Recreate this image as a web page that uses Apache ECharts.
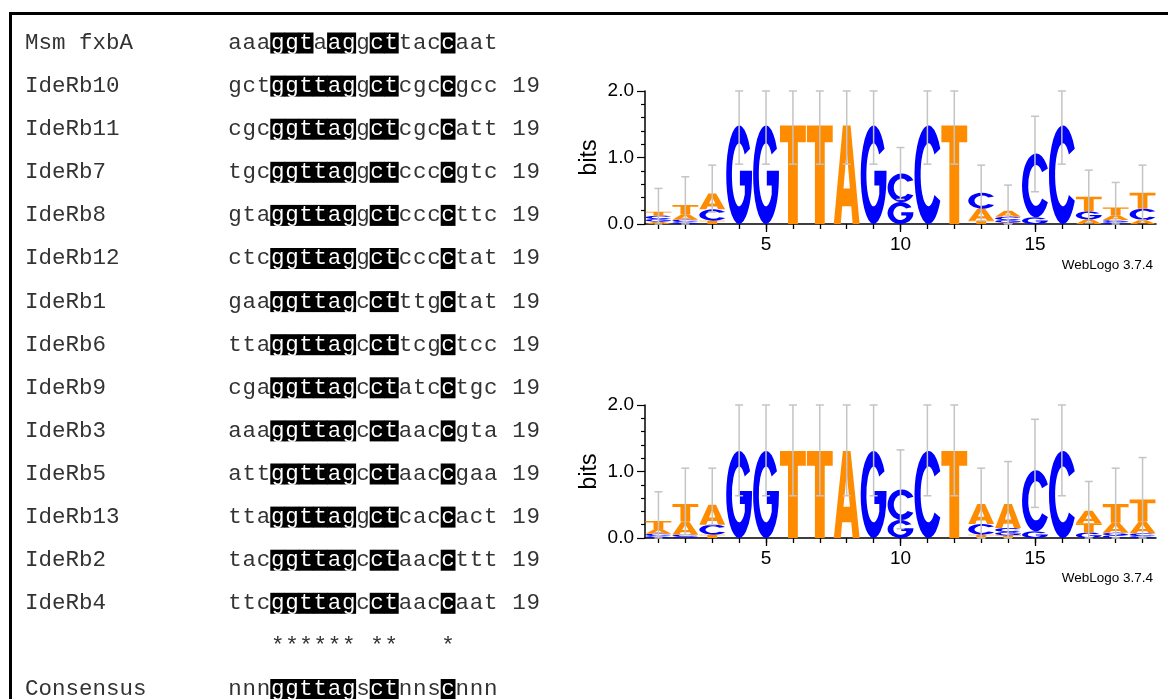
<!DOCTYPE html>
<html><head><meta charset="utf-8">
<script src="https://cdn.jsdelivr.net/npm/echarts@6/dist/echarts.min.js"></script>
<style>html,body{margin:0;padding:0;background:#fff}#c{width:1168px;height:699px}</style>
</head><body><div id="c"></div>
<script>
// ---------- alignment data ----------
const rowNames = ['Msm fxbA','IdeRb10','IdeRb11','IdeRb7','IdeRb8','IdeRb12','IdeRb1','IdeRb6','IdeRb9','IdeRb3','IdeRb5','IdeRb13','IdeRb2','IdeRb4','','Consensus'];
const rowSeqs = ['aaaggtaaggcttaccaat','gctggttaggctcgccgcc','cgcggttaggctcgccatt','tgcggttaggctccccgtc','gtaggttaggctccccttc','ctcggttaggctcccctat','gaaggttagcctttgctat','ttaggttagccttcgctcc','cgaggttagcctatcctgc','aaaggttagcctaaccgta','attggttagcctaaccgaa','ttaggttaggctcaccact','tacggttagcctaaccttt','ttcggttagcctaaccaat','   ****** **   *','nnnggttagsctnnscnnn'];
const rowCounts = ['','19','19','19','19','19','19','19','19','19','19','19','19','19','',''];
const highlightMsm = [3,4,5,7,8,10,11,15];
const highlightStd = [3,4,5,6,7,8,10,11,15];

// ---------- logo data (bits per letter at positions 1..19) ----------
const positions = [1,2,3,4,5,6,7,8,9,10,11,12,13,14,15,16,17,18,19];
const letters = ['A','C','G','T'];
const logo1A = [0.035,0.08,0.24,0,0,0,0,1.48,0,0,0,0,0.18,0.09,0,0,0.07,0.07,0.06];
const logo1C = [0.05,0.035,0.17,0,0,0,0,0,0,0.43,1.48,0,0.24,0.05,0.96,1.48,0,0.03,0.17];
const logo1G = [0.04,0.03,0,1.48,1.48,0,0,0,1.48,0.33,0,0,0,0.04,0.10,0,0.12,0.03,0];
const logo1T = [0.06,0.14,0.05,0,0,1.48,1.48,0,0,0,0,1.48,0.05,0.02,0,0,0.22,0.12,0.24];
const logo1Low  = [0,0,0.18,0.9,0.9,0.9,0.9,0.9,0.9,0.37,0.9,0.9,0.05,0,0.485,0.9,0.02,0,0.06];
const logo1High = [0.535,0.71,0.885,2,2,2,2,2,2,1.15,2,2,0.885,0.585,1.62,2,0.81,0.625,0.885];

const logo2A = [0.07,0.2,0.3,0,0,0,0,1.31,0,0,0,0,0.3,0.36,0,0,0.19,0.15,0.18];
const logo2C = [0.035,0.03,0.15,0,0,0,0,0,0,0.46,1.31,0,0.16,0.06,0.92,1.31,0,0.04,0.04];
const logo2G = [0.03,0.02,0,1.31,1.31,0,0,0,1.31,0.27,0,0,0,0.05,0.10,0,0.08,0.04,0.03];
const logo2T = [0.12,0.26,0.05,0,0,1.31,1.31,0,0,0,0,1.31,0.05,0.04,0,0,0.14,0.28,0.33];
const logo2Low  = [0,0.05,0.2,0.635,0.635,0.635,0.635,0.635,0.635,0.14,0.635,0.635,0,0,0.46,0.635,0,0,0];
const logo2High = [0.695,1.05,1.05,2,2,2,2,2,2,1.325,2,2,1.05,1.15,1.785,2,0.85,1.05,1.21];

const xLabelTicks = [5,10,15];

// ---------- glyphs ----------
const GLYPH = {
  A: 'M0,100 L35,0 L65,0 L100,100 L73,100 L67.5,82 L32.5,82 L27,100 Z M37.5,64 L62.5,64 L50,25 Z',
  C: 'M92.4,23.5 A50,50 0 1 0 92.4,76.5 L71.4,70.6 A28,32 0 1 1 71.4,29.4 Z',
  G: 'M92.4,23.5 A50,50 0 1 0 100,50 L100,46 L53,46 L53,61 L72,61 L72,69.8 A28,32 0 1 1 71.4,29.4 Z',
  T: 'M0,0 L100,0 L100,17 L69,17 L69,100 L31,100 L31,17 L0,17 Z'
};
const COLOR = {A:'#ff8c00', C:'#0000ff', G:'#0000ff', T:'#ff8c00'};

function buildStacks(A,C,G,T){
  const out = [];
  positions.forEach((p,i)=>{
    const items = [[0,A[i]],[1,C[i]],[2,G[i]],[3,T[i]]].filter(d=>d[1]>0).sort((a,b)=>a[1]-b[1]);
    let base = 0;
    items.forEach(d=>{ out.push([p, base, base+d[1], d[0]]); base += d[1]; });
  });
  return out;
}
function buildErr(low,high){ return positions.map((p,i)=>[p,low[i],high[i]]); }

const cells = [];
rowSeqs.forEach((s,r)=>{
  const full = rowCounts[r] ? s + ' ' + rowCounts[r] : s;
  const hl = r===0 ? highlightMsm : (r===14 ? [] : highlightStd);
  for (let c=0;c<full.length;c++){
    if (full[c]===' ') continue;
    cells.push({col:c,row:r,ch:full[c],hl:hl.indexOf(c)>=0 && c<19});
  }
});

const MONO = '"Liberation Mono","Courier New",monospace';
const SANS = '"Liberation Sans",Arial,Helvetica,sans-serif';
const MONO_SIZE = 22.5;

function letterRender(params, api){
  const p = api.value(0), b = api.value(1), t = api.value(2), li = api.value(3);
  const lt = api.coord([p-0.48, t]);
  const rb = api.coord([p+0.48, b]);
  const L = letters[li];
  return {type:'path', shape:{pathData:GLYPH[L], x:lt[0], y:lt[1], width:rb[0]-lt[0], height:Math.max(0.3,rb[1]-lt[1]), layout:'cover'}, style:{fill:COLOR[L]}};
}
function errRender(params, api){
  const p = api.value(0), lo = api.value(1), hi = api.value(2);
  const a = api.coord([p, lo]), b = api.coord([p, hi]);
  const st = {stroke:'#c4c4c4', lineWidth:1.5};
  return {type:'group', children:[
    {type:'line', shape:{x1:a[0],y1:a[1],x2:b[0],y2:b[1]}, style:st},
    {type:'line', shape:{x1:b[0]-4,y1:b[1],x2:b[0]+4,y2:b[1]}, style:st},
    {type:'line', shape:{x1:a[0]-4,y1:a[1],x2:a[0]+4,y2:a[1]}, style:st}
  ]};
}

function logoX(gi){
  return [
    {gridIndex:gi, type:'value', min:0.5, max:19.5, position:'bottom',
     axisLine:{show:true, onZero:false, lineStyle:{color:'#000', width:1.5}},
     axisTick:{show:true, customValues:positions, length:5, lineStyle:{color:'#000', width:1.3}},
     axisLabel:{show:true, customValues:xLabelTicks, margin:11, fontFamily:SANS, fontSize:19, color:'#000'},
     splitLine:{show:false}},
    {gridIndex:gi, type:'value', min:0.5, max:19.5, position:'bottom', offset:0,
     axisLine:{show:false, onZero:false},
     axisTick:{show:true, customValues:xLabelTicks, length:8, lineStyle:{color:'#000', width:1.3}},
     axisLabel:{show:false}, splitLine:{show:false}}
  ];
}
function logoY(gi){
  return {gridIndex:gi, type:'value', min:0, max:2, interval:1,
    name:'bits', nameLocation:'middle', nameGap:44, nameRotate:90,
    nameTextStyle:{fontFamily:SANS, fontSize:23, color:'#000'},
    axisLine:{show:true, lineStyle:{color:'#000', width:1.5}},
    axisTick:{show:true, length:8, lineStyle:{color:'#000', width:1.2}},
    minorTick:{show:true, splitNumber:5, length:4, lineStyle:{color:'#000', width:1.2}},
    axisLabel:{margin:11, fontFamily:SANS, fontSize:19, color:'#000', formatter:v=>v.toFixed(1)},
    splitLine:{show:false}, minorSplitLine:{show:false}};
}

const chart = echarts.init(document.getElementById('c'), null, {renderer:'canvas'});
chart.setOption({
  animation:false,
  backgroundColor:'#fff',
  grid:[
    {left:228, top:21.45, width:312.4, height:689.6, outerBoundsMode:'none', containLabel:false},
    {left:645, top:91, width:511, height:133, outerBoundsMode:'none', containLabel:false},
    {left:645, top:405, width:511, height:133, outerBoundsMode:'none', containLabel:false}
  ],
  xAxis:[
    {gridIndex:0, type:'value', min:0, max:22, show:false},
    ...logoX(1), ...logoX(2)
  ],
  yAxis:[
    {gridIndex:0, type:'category', inverse:true, data:rowNames,
     axisLine:{show:false}, axisTick:{show:false}, splitLine:{show:false},
     axisLabel:{align:'left', margin:203, fontFamily:MONO, fontSize:MONO_SIZE, color:'#333', interval:0}},
    logoY(1), logoY(2)
  ],
  graphic:[
    {type:'rect', shape:{x:10.5, y:13.5, width:2000, height:2000}, style:{fill:null, stroke:'#000', lineWidth:3}, z:0, silent:true},
    {type:'text', right:15, top:258, style:{text:'WebLogo 3.7.4', font:'13.5px '+SANS, fill:'#000'}},
    {type:'text', right:15, top:571, style:{text:'WebLogo 3.7.4', font:'13.5px '+SANS, fill:'#000'}}
  ],
  series:[
    {type:'custom', xAxisIndex:0, yAxisIndex:0, clip:false,
     data:cells.map(c=>[c.col, c.row]),
     encode:{x:0, y:1},
     renderItem:function(params, api){
       const cell = cells[params.dataIndex];
       const p = api.coord([cell.col+0.5, cell.row]);
       const w = api.size([1,0])[0];
       const kids = [];
       if (cell.hl) kids.push({type:'rect', shape:{x:p[0]-w/2-0.3, y:p[1]-10.5, width:w+0.6, height:21}, style:{fill:'#000'}});
       kids.push({type:'text', x:p[0], y:p[1], style:{text:cell.ch, fill:cell.hl?'#fff':'#333', font:MONO_SIZE+'px '+MONO, align:'center', verticalAlign:'middle'}});
       return {type:'group', children:kids};
     }},
    {type:'custom', xAxisIndex:1, yAxisIndex:1, clip:false, data:buildStacks(logo1A,logo1C,logo1G,logo1T), encode:{x:0,y:[1,2]}, renderItem:letterRender},
    {type:'custom', xAxisIndex:1, yAxisIndex:1, clip:false, data:buildErr(logo1Low,logo1High), encode:{x:0,y:[1,2]}, renderItem:errRender, z:3},
    {type:'custom', xAxisIndex:3, yAxisIndex:2, clip:false, data:buildStacks(logo2A,logo2C,logo2G,logo2T), encode:{x:0,y:[1,2]}, renderItem:letterRender},
    {type:'custom', xAxisIndex:3, yAxisIndex:2, clip:false, data:buildErr(logo2Low,logo2High), encode:{x:0,y:[1,2]}, renderItem:errRender, z:3}
  ]
});
</script></body></html>
